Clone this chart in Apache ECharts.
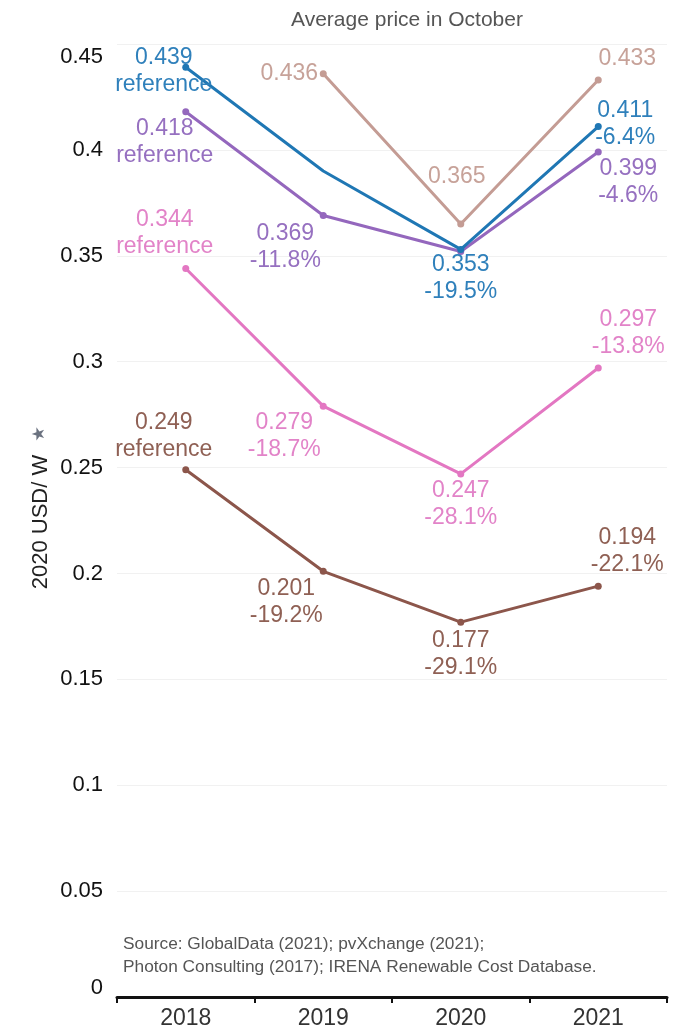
<!DOCTYPE html>
<html>
<head>
<meta charset="utf-8">
<script src="https://cdn.jsdelivr.net/npm/echarts@6/dist/echarts.min.js"></script>
<style>html,body{margin:0;padding:0;background:#fff;}#c{width:692px;height:1030px;}</style>
</head>
<body>
<div id="c"></div>
<script>
// ---- data ----
var years = ['2018', '2019', '2020', '2021'];
var yTicks = [0, 0.05, 0.1, 0.15, 0.2, 0.25, 0.3, 0.35, 0.4, 0.45];

var blueValues   = [0.439, 0.390, 0.353, 0.411];
var blueLabels   = ['0.439\nreference', '', '0.353\n-19.5%', '0.411\n-6.4%'];
var purpleValues = [0.418, 0.369, 0.352, 0.399];
var purpleLabels = ['0.418\nreference', '0.369\n-11.8%', '', '0.399\n-4.6%'];
var pinkValues   = [0.344, 0.279, 0.247, 0.297];
var pinkLabels   = ['0.344\nreference', '0.279\n-18.7%', '0.247\n-28.1%', '0.297\n-13.8%'];
var brownValues  = [0.249, 0.201, 0.177, 0.194];
var brownLabels  = ['0.249\nreference', '0.201\n-19.2%', '0.177\n-29.1%', '0.194\n-22.1%'];
var tanValues    = [null, 0.436, 0.365, 0.433];
var tanLabels    = ['', '0.436', '0.365', '0.433'];

// label placement (style only)
var blueOff   = [[-22, 4], null, [0, 29], [27, -2]];
var purpleOff = [[-21, 30], [-38, 32], null, [30, 30]];
var pinkOff   = [[-21, -35], [-39, 30], [0, 30], [30, -35]];
var brownOff  = [[-22, -34], [-37, 31], [0, 32], [29, -35]];
var tanOff    = [null, [-34, 0], [-4, -47], [29, -21]];
var blueSym   = [7, 0, 7, 7];

var FONT = 'Liberation Sans, Arial, sans-serif';

function makeSeries(name, values, labels, offs, color, labelColor, syms) {
  return {
    name: name,
    type: 'line',
    symbol: 'circle',
    symbolSize: 7,
    connectNulls: false,
    lineStyle: { color: color, width: 3 },
    itemStyle: { color: color },
    z: 3,
    data: values.map(function (v, i) {
      var d = { value: v };
      if (syms) d.symbolSize = syms[i];
      if (labels[i] && offs[i]) {
        d.label = {
          show: true,
          position: 'inside',
          offset: offs[i],
          formatter: labels[i],
          color: labelColor,
          fontSize: 23,
          lineHeight: 27,
          fontFamily: FONT,
          align: 'center',
          verticalAlign: 'middle'
        };
      } else {
        d.label = { show: false };
      }
      return d;
    })
  };
}

var chart = echarts.init(document.getElementById('c'), null, { renderer: 'canvas' });
chart.setOption({
  animation: false,
  backgroundColor: '#ffffff',
  textStyle: { fontFamily: FONT },
  title: {
    text: 'Average price in October',
    left: 402, top: 5,
    textAlign: 'center',
    textStyle: { fontSize: 21, fontWeight: 'normal', color: '#555', fontFamily: FONT }
  },
  grid: { left: 117, right: 25, top: 44, bottom: 27, containLabel: false },
  xAxis: {
    type: 'category',
    data: years,
    boundaryGap: true,
    axisLine: { show: true, lineStyle: { color: '#111', width: 3 } },
    axisTick: { show: true, length: 6, lineStyle: { color: '#111', width: 2 } },
    axisLabel: { fontSize: 23, color: '#333', margin: 10, fontFamily: FONT },
    splitLine: { show: false }
  },
  yAxis: {
    type: 'value',
    min: 0, max: 0.45, interval: 0.05,
    axisLine: { show: false },
    axisTick: { show: false },
    axisLabel: {
      fontSize: 22, color: '#111', margin: 14, fontFamily: FONT,
      formatter: function (v) {
        var s = String(Math.round(v * 100) / 100);
        if (Math.abs(v - yTicks[yTicks.length - 1]) < 1e-9) return '{t|' + s + '}';
        if (v === 0) return '{b|' + s + '}';
        return s;
      },
      rich: {
        t: { fontSize: 22, color: '#111', padding: [26, 0, 0, 0], fontFamily: FONT },
        b: { fontSize: 22, color: '#111', padding: [0, 0, 18, 0], fontFamily: FONT }
      }
    },
    splitLine: { show: true, lineStyle: { color: '#f1f1f1', width: 1 } }
  },
  graphic: [
    {
      type: 'text', x: 41, y: 522, rotation: Math.PI / 2,
      style: { text: '2020 USD/ W', fontSize: 22, fill: '#222', fontFamily: FONT,
               align: 'center', verticalAlign: 'middle' }
    },
    {
      type: 'text', x: 40, y: 434, rotation: Math.PI / 2,
      style: { text: '★', fontSize: 17, fill: '#6b7280', fontFamily: 'DejaVu Sans',
               align: 'center', verticalAlign: 'middle' }
    },
    {
      type: 'text', x: 123, y: 933,
      style: { text: 'Source: GlobalData (2021); pvXchange (2021);\nPhoton Consulting (2017); IRENA Renewable Cost Database.',
               fontSize: 17.3, lineHeight: 23, fill: '#555', fontFamily: FONT }
    }
  ],
  series: [
    makeSeries('tan', tanValues, tanLabels, tanOff, '#c49c94', '#c7a299'),
    makeSeries('brown', brownValues, brownLabels, brownOff, '#8c564b', '#8f6054'),
    makeSeries('pink', pinkValues, pinkLabels, pinkOff, '#e377c2', '#e283c8'),
    makeSeries('purple', purpleValues, purpleLabels, purpleOff, '#9467bd', '#9670c0'),
    makeSeries('blue', blueValues, blueLabels, blueOff, '#1f77b4', '#2f80bb', blueSym)
  ]
});
</script>
</body>
</html>
